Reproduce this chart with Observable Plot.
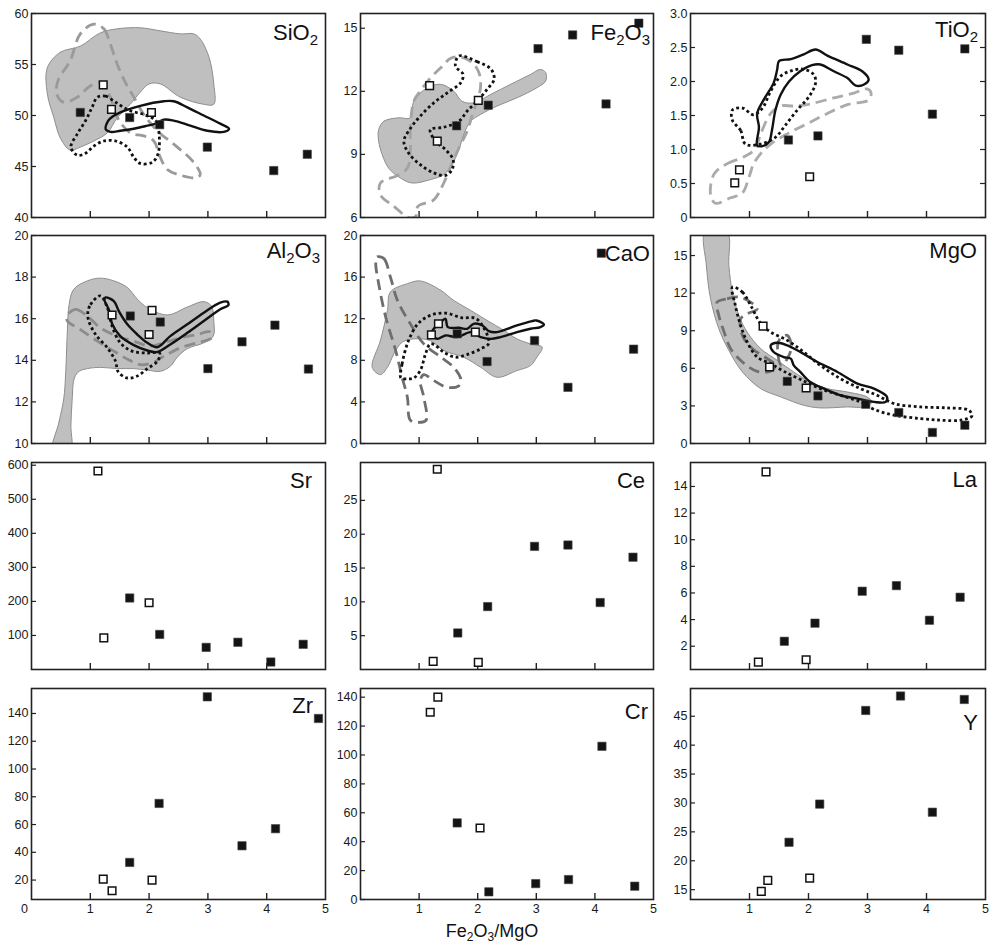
<!DOCTYPE html>
<html><head><meta charset="utf-8">
<script src="https://cdn.jsdelivr.net/npm/d3@7"></script>
<script src="https://cdn.jsdelivr.net/npm/@observablehq/plot@0.6"></script>
<style>
body{margin:0;background:#fff;}
#chart{position:relative;width:989px;height:943px;font-family:"Liberation Sans",Arial,sans-serif;color:#111;overflow:hidden;}
.panel{position:absolute;}
.lab{position:absolute;font-size:22px;line-height:22px;white-space:nowrap;color:#111;}
.lab sub{font-size:15px;vertical-align:-5px;line-height:0;}
.xtitle{position:absolute;font-size:18px;line-height:18px;white-space:nowrap;color:#111;text-align:center;}
.xtitle sub{font-size:12px;vertical-align:-4px;line-height:0;}
</style></head><body><div id="chart"></div><script>
// ---------- data ----------
const xTicks = [1, 2, 3, 4];
const xTickLabels = [1, 2, 3, 4, 5];
const zrXZeroLabel = [0];

const sio2Filled = [[0.83,50.3],[1.67,49.8],[2.18,49.1],[2.99,46.9],[4.12,44.6],[4.69,46.2]];
const sio2Open = [[1.22,53.0],[1.36,50.6],[2.04,50.3]];
const sio2Field = [[0.27,54.7],[0.49,56.2],[0.83,56.8],[1.17,58.1],[1.46,58.5],[1.85,58.6],[2.19,58.3],[2.53,58.0],[2.76,58.0],[2.87,57.5],[3.02,55.7],[3.10,53.1],[3.10,51.1],[2.93,51.1],[2.53,51.8],[2.19,53.1],[2.0,53.1],[1.85,52.3],[1.68,51.1],[1.46,49.8],[1.29,48.3],[1.06,47.5],[0.83,46.9],[0.66,46.6],[0.49,47.8],[0.38,49.8],[0.27,52.1]];
const sio2Dashed = [[1.06,58.95],[1.23,58.5],[1.34,57.0],[1.46,55.0],[1.60,53.2],[1.74,51.8],[1.91,50.1],[2.14,48.5],[2.48,46.9],[2.73,45.6],[2.87,44.25],[2.82,43.9],[2.56,44.1],[2.31,44.7],[2.19,45.9],[2.08,47.5],[1.91,48.0],[1.68,48.3],[1.46,49.8],[1.34,51.8],[1.20,53.2],[1.0,52.9],[0.78,51.8],[0.55,51.3],[0.43,52.1],[0.45,53.4],[0.66,55.4],[0.83,58.0]];
const sio2Dotted = [[1.12,51.8],[1.26,51.9],[1.43,51.3],[1.66,50.5],[1.91,50.1],[2.11,49.5],[2.17,48.2],[2.15,46.2],[2.05,45.4],[1.85,45.3],[1.74,45.9],[1.63,46.9],[1.43,47.5],[1.23,47.5],[1.06,47.0],[0.92,46.3],[0.78,46.1],[0.67,46.9],[0.78,48.2],[0.92,49.5],[1.03,50.8]];
const sio2Solid = [[1.26,48.66],[1.32,49.6],[1.51,50.3],[1.85,50.95],[2.25,51.4],[2.42,51.4],[2.65,50.8],[2.93,50.0],[3.21,49.2],[3.36,48.7],[3.27,48.4],[2.99,48.5],[2.70,49.0],[2.42,49.5],[2.25,49.6],[2.11,49.2],[1.97,49.0],[1.74,48.7],[1.51,48.5],[1.34,48.4]];

const fe2o3Filled = [[1.64,10.36],[2.18,11.34],[3.03,14.03],[3.62,14.68],[4.19,11.4],[4.75,15.24]];
const fe2o3Open = [[1.18,12.27],[1.31,9.63],[2.01,11.57]];
const fe2o3Field = [[0.31,10.18],[0.40,10.58],[0.65,10.74],[0.85,10.74],[0.91,11.53],[1.14,12.17],[1.37,12.33],[1.59,12.01],[1.73,11.53],[1.93,11.45],[2.22,11.85],[2.56,12.33],[2.90,12.8],[3.07,13.04],[3.16,12.89],[3.16,12.49],[3.01,12.17],[2.67,11.69],[2.33,11.3],[2.05,10.9],[1.88,10.58],[1.76,9.94],[1.68,9.23],[1.56,8.51],[1.42,8.04],[1.19,7.80],[0.88,7.64],[0.68,7.88],[0.48,8.35],[0.37,8.99],[0.31,9.63]];
const fe2o3Dashed = [[0.91,11.53],[0.85,10.26],[0.85,9.15],[0.80,8.35],[0.63,8.0],[0.34,7.64],[0.34,7.08],[0.57,6.53],[0.82,6.0],[0.94,6.05],[0.98,6.53],[1.25,6.84],[1.42,7.64],[1.54,8.43],[1.68,9.31],[1.82,10.1],[1.91,10.9],[1.99,11.53],[2.05,12.25],[2.02,12.89],[1.91,13.36],[1.71,13.63],[1.54,13.57],[1.37,13.12],[1.19,12.62],[1.02,12.01]];
const fe2o3Dotted = [[1.68,13.68],[1.99,13.41],[2.23,13.04],[2.28,12.57],[2.16,12.09],[1.99,11.53],[1.82,11.06],[1.68,10.58],[1.42,10.29],[1.19,10.18],[1.28,9.63],[1.45,9.23],[1.58,8.75],[1.56,8.27],[1.45,8.0],[1.25,8.12],[1.02,8.51],[0.82,9.07],[0.74,9.63],[0.85,10.23],[1.02,10.82],[1.25,11.45],[1.48,11.93],[1.71,12.41],[1.75,12.81],[1.62,13.2]];

const tio2Filled = [[1.66,1.14],[2.16,1.20],[2.98,2.62],[3.53,2.46],[4.10,1.52],[4.65,2.48]];
const tio2Open = [[0.75,0.51],[0.83,0.70],[2.02,0.60]];
const tio2Solid = [[1.13,1.06],[1.16,1.33],[1.13,1.53],[1.24,1.73],[1.41,1.98],[1.47,2.18],[1.50,2.30],[1.70,2.33],[1.92,2.40],[2.12,2.47],[2.32,2.38],[2.66,2.25],[2.91,2.15],[3.02,2.03],[2.95,1.96],[2.80,1.94],[2.66,2.05],[2.43,2.15],[2.20,2.25],[2.06,2.24],[1.86,2.15],[1.67,2.0],[1.53,1.81],[1.44,1.58],[1.38,1.28],[1.33,1.11],[1.22,1.05]];
const tio2Dotted = [[0.93,1.08],[0.85,1.28],[0.71,1.43],[0.71,1.58],[0.88,1.61],[1.07,1.51],[1.22,1.61],[1.36,1.86],[1.53,2.08],[1.72,2.16],[1.92,2.18],[2.09,2.10],[2.12,1.98],[2.01,1.78],[1.81,1.58],[1.61,1.36],[1.44,1.18],[1.19,1.08]];
const tio2Dashed = [[0.40,0.64],[0.62,0.79],[0.90,0.89],[1.10,1.01],[1.19,1.23],[1.36,1.53],[1.53,1.64],[1.75,1.64],[2.03,1.67],[2.43,1.76],[2.77,1.83],[2.99,1.89],[3.06,1.83],[3.02,1.73],[2.66,1.66],[2.32,1.53],[1.98,1.38],[1.64,1.23],[1.36,1.08],[1.19,0.94],[1.07,0.79],[0.99,0.59],[0.88,0.36],[0.68,0.29],[0.42,0.21],[0.34,0.34]];

const al2o3Filled = [[1.68,16.13],[2.19,15.84],[3.0,13.6],[3.58,14.89],[4.14,15.69],[4.71,13.58]];
const al2o3Open = [[1.37,16.18],[2.05,16.4],[2.0,15.24]];
const al2o3Field = [[0.36,9.6],[0.47,11.05],[0.55,12.18],[0.58,13.31],[0.61,15.4],[0.64,16.69],[0.72,17.42],[0.95,17.82],[1.17,17.95],[1.40,17.82],[1.63,17.5],[1.80,16.94],[1.97,16.53],[2.31,16.18],[2.65,16.56],[2.93,16.82],[3.06,16.61],[3.10,15.89],[3.09,15.16],[2.93,14.84],[2.65,14.56],[2.48,14.15],[2.36,13.71],[2.19,13.47],[1.97,13.53],[1.74,13.6],[1.46,13.6],[1.17,13.66],[0.95,13.6],[0.81,13.47],[0.73,13.15],[0.69,12.02],[0.67,10.89],[0.66,9.6]];
const al2o3Dashed = [[0.60,16.13],[0.75,16.45],[0.95,16.13],[1.17,15.56],[1.46,15.16],[1.74,14.92],[2.02,14.68],[2.25,14.84],[2.53,15.08],[2.82,15.24],[3.03,15.37],[3.06,15.08],[2.82,14.84],[2.53,14.6],[2.25,14.19],[2.05,13.87],[1.85,13.79],[1.65,14.03],[1.40,14.44],[1.12,14.92],[0.83,15.48],[0.61,15.89]];
const al2o3Dotted = [[1.17,17.1],[0.99,16.61],[0.96,16.05],[1.09,15.24],[1.29,14.6],[1.43,13.95],[1.47,13.47],[1.62,13.15],[1.79,13.23],[1.97,13.6],[2.14,13.95],[2.18,14.35],[1.97,14.35],[1.71,14.44],[1.51,14.84],[1.37,15.65],[1.29,16.53]];
const al2o3Solid = [[1.26,17.02],[1.40,16.85],[1.49,16.34],[1.63,15.73],[1.80,15.24],[1.97,14.84],[2.14,14.63],[2.36,15.16],[2.65,15.73],[2.93,16.29],[3.21,16.77],[3.33,16.82],[3.35,16.66],[3.21,16.45],[2.93,15.89],[2.65,15.32],[2.36,14.76],[2.14,14.4],[1.97,14.47],[1.74,14.73],[1.51,15.16],[1.37,15.76],[1.32,16.4],[1.24,16.92]];

const caoFilled = [[1.65,10.55],[2.16,7.88],[2.97,9.9],[3.54,5.4],[4.11,18.3],[4.66,9.07]];
const caoOpen = [[1.21,10.45],[1.33,11.51],[1.96,10.71]];
const caoField = [[0.20,7.33],[0.34,9.9],[0.46,12.8],[0.51,14.57],[0.80,15.37],[1.02,15.63],[1.37,14.73],[1.59,13.76],[1.88,12.8],[2.16,11.83],[2.45,10.87],[2.67,10.06],[2.90,9.58],[3.10,9.26],[3.01,8.3],[2.90,7.49],[2.67,7.01],[2.33,6.37],[2.05,7.33],[1.76,8.3],[1.42,8.94],[1.19,9.9],[0.91,10.06],[0.71,9.74],[0.57,8.62],[0.46,7.33],[0.34,6.62]];
const caoDashed = [[0.28,17.94],[0.40,17.78],[0.51,16.01],[0.63,13.76],[0.85,11.51],[1.08,9.58],[1.37,8.3],[1.59,7.33],[1.71,6.21],[1.68,5.56],[1.48,5.4],[1.25,6.05],[1.08,6.62],[1.02,6.05],[1.08,4.44],[1.12,2.25],[0.99,2.03],[0.85,2.25],[0.80,4.44],[0.71,6.37],[0.60,8.94],[0.43,12.15],[0.31,15.37],[0.26,17.3]];
const caoDotted = [[0.69,6.3],[0.71,7.65],[0.82,9.9],[0.98,11.51],[1.19,12.32],[1.45,12.54],[1.73,12.09],[1.98,11.99],[2.19,9.65],[2.05,9.1],[1.82,8.55],[1.62,8.3],[1.42,8.78],[1.28,9.42],[1.19,9.58],[1.11,8.62],[1.02,7.01],[0.91,6.3],[0.80,6.21]];
const caoSolid = [[1.22,10.71],[1.37,11.67],[1.45,11.99],[1.49,11.19],[1.68,11.13],[1.82,11.03],[1.93,11.51],[2.08,11.35],[2.19,10.8],[2.33,10.71],[2.67,11.35],[2.93,11.77],[3.0,11.83],[3.13,11.45],[3.07,11.19],[2.90,11.03],[2.67,10.71],[2.39,10.23],[2.22,10.06],[2.05,10.23],[1.88,10.71],[1.65,10.23],[1.45,10.39],[1.31,10.06]];

const mgoFilled = [[1.64,4.96],[2.16,3.80],[2.97,3.13],[3.53,2.47],[4.10,0.88],[4.65,1.46]];
const mgoOpen = [[1.23,9.37],[1.34,6.11],[1.96,4.43]];
const mgoField = [[0.25,16.9],[0.27,14.2],[0.34,11.55],[0.48,9.16],[0.65,7.43],[0.88,5.71],[1.19,4.38],[1.53,3.72],[1.92,3.05],[2.20,2.84],[2.66,2.92],[2.94,2.92],[3.08,3.32],[2.99,3.72],[2.66,4.11],[2.32,4.38],[2.03,4.91],[1.75,5.71],[1.47,6.64],[1.19,7.57],[0.96,8.89],[0.82,10.22],[0.71,12.08],[0.65,14.2],[0.62,16.9]];
const mgoDashed = [[0.45,11.28],[0.62,11.55],[0.85,11.68],[1.13,10.75],[0.96,10.35],[0.85,9.95],[0.88,8.63],[1.05,7.57],[1.30,6.77],[1.44,6.24],[1.36,5.76],[1.13,5.76],[0.88,6.50],[0.68,7.57],[0.57,8.89],[0.48,10.22]];
const mgoDashed2 = [[1.50,8.23],[1.64,8.63],[1.71,7.70],[1.64,6.77],[1.54,6.24],[1.48,7.17]];
const mgoDotted = [[0.71,12.48],[0.88,12.08],[1.02,11.02],[1.19,9.56],[1.36,8.89],[1.64,8.23],[1.92,7.3],[2.20,6.24],[2.54,5.18],[2.88,4.38],[3.16,3.85],[3.45,3.19],[3.90,2.92],[4.35,2.84],[4.72,2.65],[4.77,2.2],[4.58,1.86],[4.24,1.86],[3.90,1.99],[3.45,2.26],[3.11,2.73],[2.88,3.32],[2.54,3.85],[2.20,4.38],[1.86,5.12],[1.58,5.76],[1.36,6.37],[1.13,6.9],[0.96,8.1],[0.85,9.42],[0.76,11.02]];
const mgoSolid = [[1.36,7.83],[1.47,8.04],[1.64,7.83],[1.86,7.3],[2.15,6.5],[2.49,5.71],[2.83,4.78],[3.11,4.38],[3.33,3.72],[3.31,3.32],[3.11,3.32],[2.83,3.58],[2.54,3.85],[2.26,4.38],[2.03,4.91],[1.86,5.71],[1.75,6.24],[1.70,6.77],[1.58,6.9],[1.41,7.3]];

const srFilled = [[1.67,210],[2.18,103],[2.97,65],[3.51,80],[4.07,22],[4.62,74]];
const srOpen = [[1.13,583],[1.23,93],[2.0,196]];
const ceFilled = [[1.66,5.4],[2.17,9.3],[2.97,18.2],[3.54,18.4],[4.09,9.9],[4.65,16.6]];
const ceOpen = [[1.31,29.6],[1.24,1.2],[2.01,1.05]];
const laFilled = [[1.59,2.37],[2.11,3.73],[2.91,6.13],[3.49,6.55],[4.05,3.95],[4.57,5.68]];
const laOpen = [[1.28,15.1],[1.15,0.8],[1.96,0.98]];
const zrFilled = [[1.67,32.7],[2.17,75.2],[2.99,152],[3.58,44.7],[4.15,57],[4.88,136.4]];
const zrOpen = [[1.22,20.7],[1.37,12.3],[2.05,20]];
const crFilled = [[1.65,53],[2.19,5.3],[2.99,11],[3.55,13.8],[4.12,106],[4.68,9.2]];
const crOpen = [[1.19,129.6],[1.32,140],[2.04,49.5]];
const yFilled = [[1.67,23.2],[2.19,29.8],[2.97,46.0],[3.56,48.5],[4.10,28.4],[4.64,47.9]];
const yOpen = [[1.20,14.7],[1.31,16.6],[2.02,17.0]];

const sio2Ticks = [40,45,50,55,60];
const fe2o3Ticks = [6,9,12,15];
const tio2Ticks = [0,0.5,1.0,1.5,2.0,2.5,3.0];
const al2o3Ticks = [10,12,14,16,18,20];
const caoTicks = [0,4,8,12,16,20];
const mgoTicks = [0,3,6,9,12,15];
const srTicks = [100,200,300,400,500,600];
const ceTicks = [5,10,15,20,25];
const laTicks = [2,4,6,8,10,12,14];
const zrTicks = [20,40,60,80,100,120,140];
const crTicks = [0,20,40,60,80,100,120,140];
const yTicks = [15,20,25,30,35,40,45];

// ---------- layout ----------
const colX = [31, 360, 690], colW = [294, 293, 295];
const rowY = [13, 235, 462, 688], rowH = [204, 208, 207, 211];
const ML = 30, MR = 3, MT = 6;

const panels = [
  {r:0,c:0,label:"SiO<sub>2</sub>",lx:318,ly:40,domain:[40,60],ticks:sio2Ticks,filled:sio2Filled,open:sio2Open,field:sio2Field,dashed:[sio2Dashed],dash:"#9a9a9a",dotted:[sio2Dotted],solid:[sio2Solid]},
  {r:0,c:1,label:"Fe<sub>2</sub>O<sub>3</sub>",lx:650,ly:40,domain:[6,15.7],ticks:fe2o3Ticks,filled:fe2o3Filled,open:fe2o3Open,field:fe2o3Field,dashed:[fe2o3Dashed],dash:"#a3a3a3",dotted:[fe2o3Dotted],solid:[]},
  {r:0,c:2,label:"TiO<sub>2</sub>",lx:978,ly:37,domain:[0,3],ticks:tio2Ticks,fmt:d=>d===0?"0":d.toFixed(1),right:true,filled:tio2Filled,open:tio2Open,field:null,dashed:[tio2Dashed],dash:"#ababab",dotted:[tio2Dotted],solid:[tio2Solid]},
  {r:1,c:0,label:"Al<sub>2</sub>O<sub>3</sub>",lx:320,ly:258,domain:[10,20],ticks:al2o3Ticks,filled:al2o3Filled,open:al2o3Open,field:al2o3Field,dashed:[al2o3Dashed],dash:"#8c8c8c",dotted:[al2o3Dotted],solid:[al2o3Solid]},
  {r:1,c:1,label:"CaO",lx:650,ly:261,domain:[0,20],ticks:caoTicks,filled:caoFilled,open:caoOpen,field:caoField,dashed:[caoDashed],dash:"#6e6e6e",dotted:[caoDotted],solid:[caoSolid]},
  {r:1,c:2,label:"MgO",lx:977,ly:258,domain:[0,16.6],ticks:mgoTicks,filled:mgoFilled,open:mgoOpen,field:mgoField,dashed:[mgoDashed,mgoDashed2],dash:"#707070",dotted:[mgoDotted],solid:[mgoSolid]},
  {r:2,c:0,label:"Sr",lx:312,ly:488,domain:[0,608],ticks:srTicks,filled:srFilled,open:srOpen},
  {r:2,c:1,label:"Ce",lx:645,ly:488,domain:[0,30.6],ticks:ceTicks,filled:ceFilled,open:ceOpen},
  {r:2,c:2,label:"La",lx:977,ly:487,domain:[0.25,15.8],ticks:laTicks,filled:laFilled,open:laOpen},
  {r:3,c:0,label:"Zr",lx:313,ly:713,domain:[6,158],ticks:zrTicks,filled:zrFilled,open:zrOpen,xl:xTickLabels,xl0:zrXZeroLabel},
  {r:3,c:1,label:"Cr",lx:648,ly:719,domain:[0,146],ticks:crTicks,filled:crFilled,open:crOpen,xl:xTickLabels},
  {r:3,c:2,label:"Y",lx:978,ly:730,domain:[13.3,49.8],ticks:yTicks,filled:yFilled,open:yOpen,xl:xTickLabels}
];

const chart = document.getElementById("chart");
const curve = "catmull-rom-closed";

for (const p of panels) {
  const fw = colW[p.c], fh = rowH[p.r];
  const MB = p.r === 3 ? 40 : 6;
  const marks = [];
  if (p.field) marks.push(Plot.line(p.field, {curve, fill:"#bfbfbf", stroke:"#8e8e8e", strokeWidth:1, clip:true}));
  for (const d of (p.dashed||[])) marks.push(Plot.line(d, {curve, stroke:p.dash, strokeWidth:2.8, strokeDasharray:"11,6", strokeLinecap:"butt", clip:true}));
  for (const d of (p.dotted||[])) marks.push(Plot.line(d, {curve, stroke:"#111", strokeWidth:2.8, strokeDasharray:"2.8,2.8", strokeLinecap:"butt", clip:true}));
  for (const d of (p.solid||[])) marks.push(Plot.line(d, {curve, stroke:"#111", strokeWidth:2.4, clip:true}));
  marks.push(Plot.tickY(p.ticks, {y:d=>d, stroke:"#222", strokeWidth:1.2, insetRight:fw-5}));
  if (p.right) marks.push(Plot.tickY(p.ticks, {y:d=>d, stroke:"#222", strokeWidth:1.2, insetLeft:fw-5}));
  marks.push(Plot.tickX(xTicks, {x:d=>d, stroke:"#222", strokeWidth:1.4, insetTop:fh-6}));
  marks.push(Plot.frame({stroke:"#222", strokeWidth:1.6}));
  marks.push(Plot.dot(p.filled, {symbol:"square", r:4.7, fill:"#141414", stroke:"#444", strokeWidth:0.6}));
  marks.push(Plot.dot(p.open, {symbol:"square", r:4.3, fill:"#fff", stroke:"#111", strokeWidth:1.5}));
  marks.push(Plot.axisY(p.ticks, {tickSize:0, tickPadding:3, tickFormat:p.fmt||(d=>String(d)), fontSize:12.5, fill:"#1a1a1a", label:null}));
  if (p.xl) marks.push(Plot.axisX(p.xl, {tickSize:0, tickPadding:5, fontSize:12.5, fill:"#1a1a1a", label:null}));
  if (p.xl0) marks.push(Plot.axisX(p.xl0, {tickSize:0, tickPadding:5, fontSize:12.5, fill:"#1a1a1a", dx:-7, label:null}));
  const svg = Plot.plot({
    width: ML + fw + MR, height: MT + fh + MB,
    marginLeft: ML, marginRight: MR, marginTop: MT, marginBottom: MB,
    x: {domain:[0,5], axis:null},
    y: {domain:p.domain, axis:null},
    style: {fontFamily:'"Liberation Sans", Arial, sans-serif', fontSize:"12.5px", color:"#1a1a1a", background:"transparent", overflow:"visible"},
    marks
  });
  svg.classList.add("panel");
  svg.style.left = (colX[p.c] - ML) + "px";
  svg.style.top = (rowY[p.r] - MT) + "px";
  chart.appendChild(svg);
  const lab = document.createElement("div");
  lab.className = "lab";
  lab.innerHTML = p.label;
  lab.style.right = (989 - p.lx) + "px";
  lab.style.top = (p.ly - 18) + "px";
  chart.appendChild(lab);
}

const xt = document.createElement("div");
xt.className = "xtitle";
xt.innerHTML = "Fe<sub>2</sub>O<sub>3</sub>/MgO";
xt.style.left = "392px"; xt.style.width = "200px"; xt.style.top = "922px";
chart.appendChild(xt);
</script></body></html>
